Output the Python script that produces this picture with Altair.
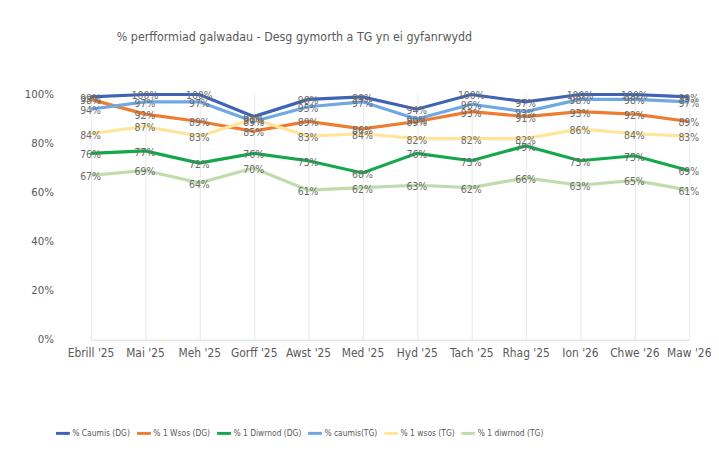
import altair as alt
import pandas as pd

months = ["Ebrill '25", "Mai '25", "Meh '25", "Gorff '25", "Awst '25", "Med '25",
          "Hyd '25", "Tach '25", "Rhag '25", "Ion '26", "Chwe '26", "Maw '26"]

series_names = ["% Caumis (DG)", "% 1 Wsos (DG)", "% 1 Diwrnod (DG)",
                "% caumis(TG)", "% 1 wsos (TG)", "% 1 diwrnod (TG)"]

caumis_dg = [99, 100, 100, 91, 98, 99, 94, 100, 97, 100, 100, 99]
wsos_dg = [98, 92, 89, 85, 89, 86, 89, 93, 91, 93, 92, 89]
diwrnod_dg = [76, 77, 72, 76, 73, 68, 76, 73, 79, 73, 75, 69]
caumis_tg = [94, 97, 97, 89, 95, 97, 90, 96, 93, 98, 98, 97]
wsos_tg = [84, 87, 83, 90, 83, 84, 82, 82, 82, 86, 84, 83]
diwrnod_tg = [67, 69, 64, 70, 61, 62, 63, 62, 66, 63, 65, 61]

colors = ["#3F63B5", "#ED7D31", "#13A84A", "#6FA8E4", "#FFE49A", "#BFDDAA"]
y_ticks = [0, 0.1, 0.2, 0.3, 0.4, 0.5, 0.6, 0.7, 0.8, 0.9, 1.0]

all_series = [caumis_dg, wsos_dg, diwrnod_dg, caumis_tg, wsos_tg, diwrnod_tg]
rows = []
for si, (name, vals) in enumerate(zip(series_names, all_series)):
    for m, v in zip(months, vals):
        rows.append({"month": m, "series": name, "order": si, "pct": v})
df = pd.DataFrame(rows)

FONT = "DejaVu Sans Condensed, Liberation Sans Narrow, Lato, sans-serif"

base = alt.Chart(df).transform_calculate(v="datum.pct / 100")

x = alt.X("month:N", sort=months,
          scale=alt.Scale(type="point", range=[27.5, 632.5], padding=0),
          axis=alt.Axis(title=None, labelAngle=0, labelFontSize=12, labelColor="#595959",
                        labelFont=FONT, domainColor="#D9D9D9", ticks=False,
                        grid=True, gridColor="#E8E8E8", labelPadding=8))
y = alt.Y("v:Q", scale=alt.Scale(domain=[0, 1]),
          axis=alt.Axis(title=None, format=".0%", values=y_ticks, labelFontSize=11.5,
                        labelColor="#595959", labelFont=FONT, domain=False, ticks=False,
                        grid=False, labelPadding=10))
color = alt.Color("series:N", sort=series_names,
                  scale=alt.Scale(domain=series_names, range=colors),
                  legend=alt.Legend(title=None, orient="none", direction="horizontal",
                                    legendX=-9, legendY=334, symbolType="stroke",
                                    symbolSize=196, symbolStrokeWidth=3,
                                    labelFontSize=8.5, labelFont=FONT,
                                    labelColor="#595959", columnPadding=0,
                                    labelOffset=1))

lines = base.mark_line(strokeWidth=3.2, clip=False).encode(
    x=x, y=y, color=color, detail="series:N", order=alt.Order("order:Q"))

labels = base.mark_text(fontSize=10.5, font=FONT, color="#6B6B6B", dy=2).encode(
    x=alt.X("month:N", sort=months), y="v:Q",
    text=alt.Text("v:Q", format=".0%"))

chart = alt.layer(lines, labels).properties(
    width=655, height=248,
    autosize=alt.AutoSizeParams(type="none"),
    padding={"left": 56, "top": 85, "right": 0, "bottom": 103},
    title=alt.TitleParams("% perfformiad galwadau - Desg gymorth a TG yn ei gyfanrwydd",
                          anchor="start", frame="group", dx=54, offset=45,
                          fontSize=12.5, font=FONT, color="#595959", fontWeight="normal"),
).configure_view(stroke=None)

chart.save("out.html", embed_options={"renderer": "svg", "actions": False})
